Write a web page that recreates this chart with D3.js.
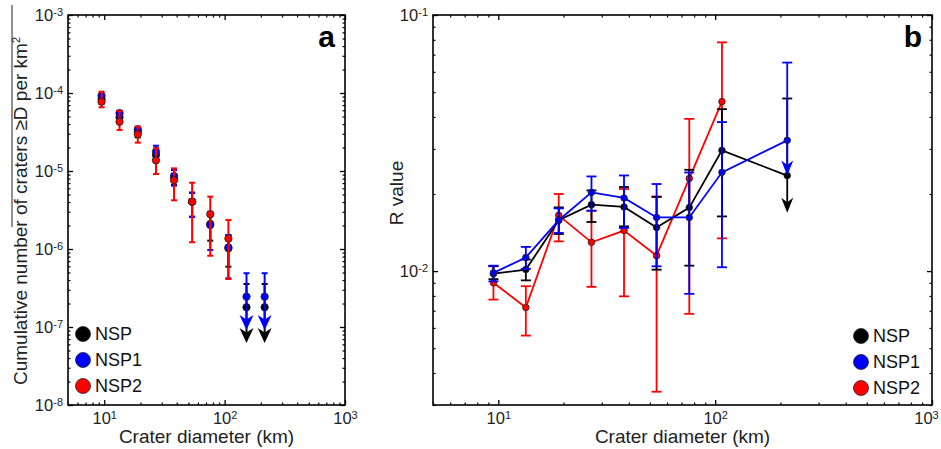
<!DOCTYPE html>
<html>
<head>
<meta charset="utf-8">
<script src="https://cdnjs.cloudflare.com/ajax/libs/d3/7.8.5/d3.min.js"></script>
<style>
body { margin: 0; background: #fff; }
svg { font-family: "Liberation Sans", Arial, Helvetica, sans-serif; }
</style>
</head>
<body>
<div id="chart"></div>
<script>
"use strict";

// crater diameter bins (km), sqrt(2) spaced
var diameters = [9.5, 13.4, 19, 26.9, 38, 53.7, 76, 107.5, 152, 215];

var seriesNames = ["NSP", "NSP1", "NSP2"];
var seriesColors = ["#000000", "#0000ff", "#ff0000"];

// panel a: cumulative number of craters >= D per km^2
var cumNSP    = [8.38e-5, 4.88e-5, 3.19e-5, 1.60e-5, 8.21e-6, 4.04e-6, 2.09e-6, 1.02e-6, 1.79e-7, 1.79e-7];
var cumNSPlo  = [7.3e-5, 4.2e-5, 2.7e-5, 1.3e-5, 6.6e-6, 2.6e-6, 1.28e-6, 5.93e-7, null, null];
var cumNSPhi  = [9.6e-5, 5.7e-5, 3.6e-5, 1.95e-5, 1.03e-5, 5.27e-6, 2.9e-6, 1.5e-6, 3.56e-7, 3.56e-7];
var cumNSPtip = [null, null, null, null, null, null, null, null, 6.24e-8, 6.24e-8];

var cumNSP1    = [9.23e-5, 5.50e-5, 3.42e-5, 1.77e-5, 8.63e-6, 4.04e-6, 2.03e-6, 1.05e-6, 2.45e-7, 2.45e-7];
var cumNSP1lo  = [8.2e-5, 4.9e-5, 3.0e-5, 1.5e-5, 6.49e-6, 2.57e-6, 9.7e-7, 4.21e-7, null, null];
var cumNSP1hi  = [9.71e-5, 5.93e-5, 3.70e-5, 2.11e-5, 1.03e-5, 5.27e-6, 3.0e-6, 1.51e-6, 4.89e-7, 4.89e-7];
var cumNSP1tip = [null, null, null, null, null, null, null, null, 9.16e-8, 9.16e-8];

var cumNSP2    = [7.74e-5, 4.28e-5, 2.95e-5, 1.37e-5, 7.60e-6, 4.04e-6, 2.79e-6, 1.36e-6, null, null];
var cumNSP2lo  = [6.56e-5, 3.36e-5, 2.31e-5, 9.15e-6, 4.21e-6, 1.22e-6, 8.20e-7, 4.12e-7, null, null];
var cumNSP2hi  = [1.04e-4, 5.88e-5, 3.70e-5, 1.95e-5, 1.08e-5, 7.08e-6, 4.69e-6, 2.35e-6, null, null];

// panel b: R value
var rNSP    = [0.00977, 0.01014, 0.0158, 0.01817, 0.0178, 0.0148, 0.0177, 0.0296, null, 0.0236];
var rNSPlo  = [0.0093, 0.0092, 0.01396, 0.01555, 0.01495, 0.01013, 0.0105, 0.01635, null, null];
var rNSPhi  = [0.01045, 0.0111, 0.01773, 0.02065, 0.02129, 0.01948, 0.02486, 0.04289, null, 0.0472];
var rNSPtip = [null, null, null, null, null, null, null, null, null, 0.0169];

var rNSP1    = [0.00984, 0.0113, 0.0158, 0.0203, 0.0193, 0.0162, 0.0162, 0.0243, null, 0.0324];
var rNSP1lo  = [0.00912, 0.0102, 0.01409, 0.01721, 0.01474, 0.01044, 0.00815, 0.01035, null, null];
var rNSP1hi  = [0.0105, 0.01243, 0.01757, 0.02342, 0.02363, 0.02188, 0.02427, 0.03818, null, 0.0652];
var rNSP1tip = [null, null, null, null, null, null, null, null, null, 0.0236];

var rNSP2    = [0.0090, 0.00721, 0.0165, 0.01295, 0.0144, 0.01149, 0.0230, 0.0459, null, null];
var rNSP2lo  = [0.00774, 0.0056, 0.01306, 0.00868, 0.00797, 0.00338, 0.00681, 0.01342, null, null];
var rNSP2hi  = [0.01045, 0.00873, 0.0200, 0.0172, 0.02091, 0.01957, 0.0393, 0.0782, null, null];

var W = 941, H = 449;

var svg = d3.select("#chart").append("svg")
    .attr("width", W)
    .attr("height", H);

function minorTicks(domain) {
    var out = [];
    var k0 = Math.floor(Math.log10(domain[0])), k1 = Math.ceil(Math.log10(domain[1]));
    for (var k = k0; k <= k1; k++) {
        for (var m = 2; m <= 9; m++) {
            var v = m * Math.pow(10, k);
            if (v >= domain[0] * 0.999 && v <= domain[1] * 1.001) out.push(v);
        }
    }
    return out;
}

function powLabel(sel) {
    sel.each(function(d) {
        var t = d3.select(this);
        var e = Math.round(Math.log10(d));
        t.text("");
        t.append("tspan").text("10");
        t.append("tspan").attr("dy", -5).attr("font-size", 11).text(e);
    });
}

function drawPanel(p) {
    var g = svg.append("g").attr("transform", "translate(" + p.left + "," + p.top + ")");
    var x = d3.scaleLog().domain(p.xDomain).range([0, p.width]);
    var y = d3.scaleLog().domain(p.yDomain).range([p.height, 0]);

    // minor ticks on all four sides
    var xm = minorTicks(p.xDomain), ym = minorTicks(p.yDomain);
    var axes = [
        [d3.axisBottom(x).tickValues(xm), "translate(0," + p.height + ")"],
        [d3.axisTop(x).tickValues(xm), null],
        [d3.axisLeft(y).tickValues(ym), null],
        [d3.axisRight(y).tickValues(ym), "translate(" + p.width + ",0)"]
    ];
    axes.forEach(function(a) {
        var ga = g.append("g").call(a[0].tickSize(-2.5).tickFormat(""));
        if (a[1]) ga.attr("transform", a[1]);
        ga.select(".domain").remove();
        ga.selectAll("line").attr("stroke", "#000").attr("stroke-width", 1.2);
    });

    // major ticks
    var xM = p.xMajor, yM = p.yMajor;
    var gx = g.append("g").attr("transform", "translate(0," + p.height + ")")
        .call(d3.axisBottom(x).tickValues(xM).tickSize(-5).tickPadding(7));
    var gy = g.append("g")
        .call(d3.axisLeft(y).tickValues(yM).tickSize(-5).tickPadding(5));
    var gx2 = g.append("g").call(d3.axisTop(x).tickValues(xM).tickSize(-5).tickFormat(""));
    var gy2 = g.append("g").attr("transform", "translate(" + p.width + ",0)")
        .call(d3.axisRight(y).tickValues(yM).tickSize(-5).tickFormat(""));
    [gx, gy, gx2, gy2].forEach(function(ga) {
        ga.select(".domain").remove();
        ga.selectAll("line").attr("stroke", "#000").attr("stroke-width", 1.3);
        ga.selectAll("text").attr("font-size", 16.5).attr("fill", "#222")
            .attr("font-family", "Liberation Sans, Arial, sans-serif");
    });
    gx.selectAll("text").call(powLabel);
    gy.selectAll("text").call(powLabel);
    // keep the right-most label inside the page
    if (p.lastLabelShift) {
        gx.selectAll("text").filter(function(d) { return d === xM[xM.length - 1]; })
            .attr("x", -p.lastLabelShift);
    }

    // frame
    g.append("rect")
        .attr("width", p.width).attr("height", p.height)
        .attr("fill", "none").attr("stroke", "#000").attr("stroke-width", 1.6);

    // series
    p.series.forEach(function(s) {
        var pts = diameters.map(function(d, i) {
            return { d: d, v: s.values[i], lo: s.lo[i], hi: s.hi[i], tip: s.tip ? s.tip[i] : null };
        }).filter(function(q) { return q.v != null; });

        var sg = g.append("g");
        if (p.lines) {
            sg.append("path").datum(pts)
                .attr("d", d3.line().x(function(q) { return x(q.d); }).y(function(q) { return y(q.v); }))
                .attr("fill", "none").attr("stroke", s.color).attr("stroke-width", 1.8);
        }
        // vertical error bars
        sg.selectAll(null).data(pts).enter().append("line")
            .attr("x1", function(q) { return x(q.d); })
            .attr("x2", function(q) { return x(q.d); })
            .attr("y1", function(q) { return y(q.hi); })
            .attr("y2", function(q) { return q.tip != null ? y(q.tip) - p.headH * 0.6 : y(q.lo); })
            .attr("stroke", s.color).attr("stroke-width", p.barW);
        // caps
        var capPts = [];
        pts.forEach(function(q) {
            if (q.hi != null) capPts.push({ d: q.d, v: q.hi });
            if (q.lo != null) capPts.push({ d: q.d, v: q.lo });
        });
        sg.selectAll(null).data(capPts).enter().append("line")
            .attr("x1", function(q) { return x(q.d) - p.cap; })
            .attr("x2", function(q) { return x(q.d) + p.cap; })
            .attr("y1", function(q) { return y(q.v); })
            .attr("y2", function(q) { return y(q.v); })
            .attr("stroke", s.color).attr("stroke-width", p.barW);
        // upper-limit arrow heads
        sg.selectAll(null).data(pts.filter(function(q) { return q.tip != null; })).enter().append("path")
            .attr("d", function(q) {
                var cx = x(q.d), ty = y(q.tip), w = p.headW, h = p.headH;
                return "M" + cx + "," + ty + "L" + (cx - w / 2) + "," + (ty - h) +
                    "L" + cx + "," + (ty - h * 0.7) + "L" + (cx + w / 2) + "," + (ty - h) + "Z";
            })
            .attr("fill", s.color);
        // markers
        sg.selectAll(null).data(pts).enter().append("circle")
            .attr("cx", function(q) { return x(q.d); })
            .attr("cy", function(q) { return y(q.v); })
            .attr("r", p.r)
            .attr("fill", s.color).attr("stroke", "#222").attr("stroke-width", 0.8);
    });

    // legend
    var lg = g.append("g").attr("transform", "translate(" + p.legend[0] + "," + p.legend[1] + ")");
    var items = lg.selectAll("g").data(seriesNames).enter().append("g")
        .attr("transform", function(d, i) { return "translate(0," + i * 26 + ")"; });
    items.append("circle").attr("r", 7.5)
        .attr("fill", function(d, i) { return seriesColors[i]; })
        .attr("stroke", "#222").attr("stroke-width", 0.8);
    items.append("text").attr("x", 12).attr("dy", "0.36em")
        .attr("font-size", 18).attr("fill", "#111").text(function(d) { return d; });

    // panel letter
    g.append("text").attr("x", p.width - 10).attr("y", 32)
        .attr("text-anchor", "end").attr("font-size", 30).attr("font-weight", "bold")
        .text(p.letter);

    // x label
    g.append("text").attr("x", p.width / 2).attr("y", p.height + 38)
        .attr("text-anchor", "middle").attr("font-size", 19).attr("fill", "#222")
        .text("Crater diameter (km)");
    return g;
}

drawPanel({
    left: 68, top: 15, width: 277, height: 390,
    xDomain: [5, 1000], yDomain: [1e-8, 1e-3],
    xMajor: [10, 100, 1000], yMajor: [1e-8, 1e-7, 1e-6, 1e-5, 1e-4, 1e-3],
    lines: false, r: 3.7, cap: 3, barW: 2, headW: 14, headH: 15,
    legend: [15, 319], letter: "a",
    series: [
        { color: seriesColors[0], values: cumNSP, lo: cumNSPlo, hi: cumNSPhi, tip: cumNSPtip },
        { color: seriesColors[1], values: cumNSP1, lo: cumNSP1lo, hi: cumNSP1hi, tip: cumNSP1tip },
        { color: seriesColors[2], values: cumNSP2, lo: cumNSP2lo, hi: cumNSP2hi }
    ]
});

drawPanel({
    left: 433, top: 15, width: 499, height: 390,
    xDomain: [5, 1000], yDomain: [0.003, 0.1],
    xMajor: [10, 100, 1000], yMajor: [0.01, 0.1],
    lines: true, r: 3.3, cap: 5, barW: 1.8, headW: 12, headH: 15,
    legend: [428, 321], letter: "b", lastLabelShift: 6,
    series: [
        { color: seriesColors[2], values: rNSP2, lo: rNSP2lo, hi: rNSP2hi },
        { color: seriesColors[0], values: rNSP, lo: rNSPlo, hi: rNSPhi, tip: rNSPtip },
        { color: seriesColors[1], values: rNSP1, lo: rNSP1lo, hi: rNSP1hi, tip: rNSP1tip }
    ]
});

// y labels
var ya = svg.append("text")
    .attr("transform", "translate(27,211) rotate(-90)")
    .attr("text-anchor", "middle").attr("font-size", 19).attr("fill", "#222");
ya.append("tspan").text("Cumulative number of craters \u2265D per km");
ya.append("tspan").attr("dy", -7).attr("font-size", 11).text("2");
// stray overline seen in the original label
svg.append("line").attr("x1", 12).attr("x2", 12).attr("y1", 5).attr("y2", 227)
    .attr("stroke", "#222").attr("stroke-width", 1);

svg.append("text")
    .attr("transform", "translate(403,193) rotate(-90)")
    .attr("text-anchor", "middle").attr("font-size", 19).attr("fill", "#222")
    .text("R value");
</script>
</body>
</html>
